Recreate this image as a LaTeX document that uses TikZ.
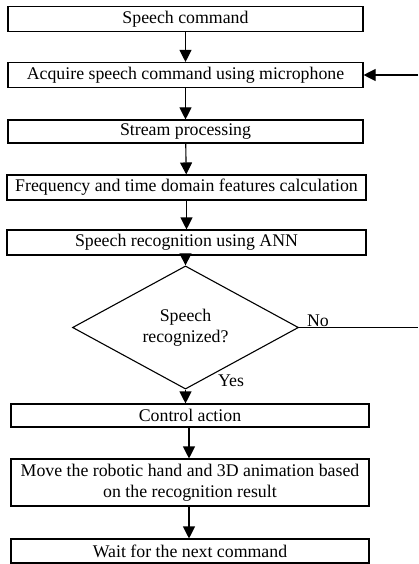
\documentclass[tikz,border=0pt]{standalone}
\usepackage{fontspec}
\setmainfont{Liberation Serif}
\usetikzlibrary{shapes.geometric, arrows.meta}

\begin{document}
\begin{tikzpicture}[x=1pt, y=-1pt,
        >={Triangle[width=12pt,length=12pt]},
        every path/.style={line width=1.1pt},
        stepbox/.style={rectangle, draw, minimum height=25pt, inner sep=0pt, font=\fontsize{17.8}{21}\selectfont, align=center},
        decision/.style={diamond, draw, minimum width=226pt, minimum height=87pt, inner sep=0pt, font=\fontsize{17.8}{21}\selectfont, align=center},
        flow/.style={->}
    ]
        \useasboundingbox (0,0) rectangle (418,564);

        \node[stepbox, minimum width=355pt] (cmd) at (185.5, 19) {Speech command};
        \node[stepbox, minimum width=355pt] (acq) at (185.5, 75) {Acquire speech command using microphone};
        \node[stepbox, minimum width=355pt, minimum height=23pt] (stream) at (185.5, 131.5) {Stream processing};
        \node[stepbox, minimum width=359pt] (feat) at (186.5, 187.5) {Frequency and time domain features calculation};
        \node[stepbox, minimum width=359pt] (ann) at (186.5, 242.5) {Speech recognition using ANN};
        \node[decision] (ok) at (185.5, 327.5) {Speech\\recognized?};
        \node[stepbox, minimum width=358pt, minimum height=23pt] (ctrl) at (190, 415.5) {Control action};
        \node[stepbox, minimum width=358pt, minimum height=47pt] (move) at (190, 482.5) {Move the robotic hand and 3D animation based\\on the recognition result};
        \node[stepbox, minimum width=358pt, minimum height=24pt] (wait) at (190, 551) {Wait for the next command};

        \coordinate (noend) at (418, 327.5);
        \coordinate (back) at (418, 75);

        \draw[flow] (cmd) -- (acq);
        \draw[flow] (acq) -- (stream);
        \draw[flow] (stream) -- (feat);
        \draw[flow] (feat) -- (ann);
        \draw[flow] (ann.south -| ok.north) -- (ok.north);
        \draw[flow] (ok.south) -- (ok.south |- ctrl.north);
        \draw[flow] (ctrl.south -| 189,0) -- (move.north -| 189,0);
        \draw[flow] (move.south -| 189,0) -- (wait.north -| 189,0);
        \draw (ok.east) -- (noend);
        \draw[flow] (back) -- (acq.east);

        \node[font=\fontsize{17.8}{21}\selectfont] (nolbl) at (318, 321) {No};
        \node[font=\fontsize{17.8}{21}\selectfont] (yeslbl) at (231, 381) {Yes};
    \end{tikzpicture}
\end{document}
